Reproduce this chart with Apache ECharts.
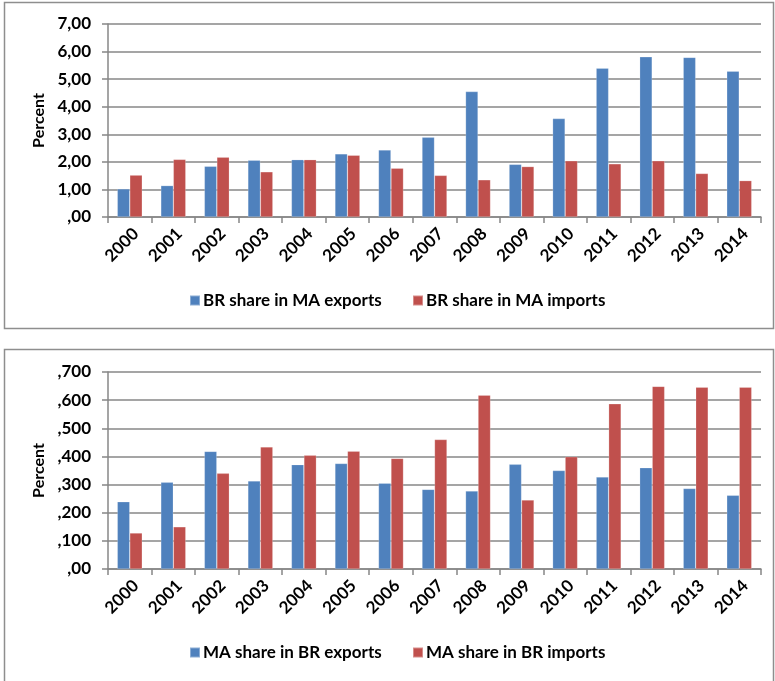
<!DOCTYPE html>
<html>
<head>
<meta charset="utf-8">
<script src="https://cdn.jsdelivr.net/npm/echarts@6/dist/echarts.min.js"></script>
<style>
html,body{margin:0;padding:0;background:#fff;}
#chart{width:775px;height:681px;}
</style>
</head>
<body>
<div id="chart"></div>
<script>
const years = ['2000','2001','2002','2003','2004','2005','2006','2007','2008','2009','2010','2011','2012','2013','2014'];
const brShareInMaExports = [1.02,1.14,1.84,2.06,2.08,2.29,2.43,2.89,4.55,1.91,3.57,5.40,5.81,5.79,5.29];
const brShareInMaImports = [1.52,2.09,2.17,1.64,2.08,2.24,1.77,1.51,1.35,1.83,2.04,1.93,2.04,1.58,1.32];
const maShareInBrExports = [0.239,0.308,0.418,0.313,0.371,0.375,0.305,0.283,0.277,0.372,0.350,0.327,0.360,0.286,0.262];
const maShareInBrImports = [0.128,0.150,0.340,0.434,0.404,0.419,0.393,0.460,0.618,0.245,0.399,0.587,0.649,0.646,0.646];
const seriesNames = ['BR share in MA exports','BR share in MA imports','MA share in BR exports','MA share in BR imports'];

const FONT = 'Lato, "Open Sans", sans-serif';
const BLUE = '#4F81BD';
const RED = '#C0504D';
const GRID = '#878787';

function fmtTop(v){ if (v === 0) return ',00'; return v.toFixed(2).replace('.', ','); }
function fmtBottom(v){ if (Math.abs(v) < 1e-9) return ',00'; return v.toFixed(3).replace(/^0\./, ','); }

function xAxis(gridIndex){
  return {
    type:'category', gridIndex, data: years, boundaryGap:true,
    axisLine:{show:true, lineStyle:{color:GRID, width:1.5}},
    axisTick:{show:true, length:6, lineStyle:{color:GRID, width:1.5}},
    axisLabel:{rotate:45, margin:8, verticalAlign:'top', color:'#000', fontFamily:FONT, fontWeight:'bold', fontSize:17},
    splitLine:{show:false}
  };
}
function yAxis(gridIndex, max, interval, fmt){
  return {
    type:'value', gridIndex, min:0, max, interval,
    name:'Percent', nameLocation:'middle', nameGap:60,
    nameTextStyle:{color:'#000', fontFamily:FONT, fontWeight:'bold', fontSize:16},
    axisLine:{show:true, lineStyle:{color:GRID, width:1.5}},
    axisTick:{show:true, length:6, lineStyle:{color:GRID, width:1.5}},
    axisLabel:{margin:17, color:'#000', fontFamily:FONT, fontWeight:'bold', fontSize:17, formatter:fmt},
    splitLine:{show:true, lineStyle:{color:GRID, width:1.5}}
  };
}
function bar(name, data, color, idx){
  return {
    type:'bar', name, data, xAxisIndex:idx, yAxisIndex:idx,
    barWidth:12.5, barGap:'0%',
    itemStyle:{color, borderColor:'rgba(255,255,255,0.35)', borderWidth:0.6},
    silent:true, animation:false
  };
}
function legend(name, left, top){
  return {
    data:[name], left, top, padding:0, icon:'rect', itemWidth:10, itemHeight:10, itemGap:4,
    textStyle:{color:'#000', fontFamily:FONT, fontWeight:'bold', fontSize:17, padding:[0,0,0,-2]},
    selectedMode:false
  };
}

const chart = echarts.init(document.getElementById('chart'), null, {renderer:'canvas'});
chart.setOption({
  animation:false,
  backgroundColor:'#fff',
  grid:[
    {left:108, right:14, top:24, height:193},
    {left:108, right:14, top:372, height:197}
  ],
  xAxis:[xAxis(0), xAxis(1)],
  yAxis:[yAxis(0, 7, 1, fmtTop), yAxis(1, 0.7, 0.1, fmtBottom)],
  legend:[
    legend(seriesNames[0], 189, 292),
    legend(seriesNames[1], 412, 292),
    legend(seriesNames[2], 189, 644),
    legend(seriesNames[3], 412, 644)
  ],
  series:[
    bar(seriesNames[0], brShareInMaExports, BLUE, 0),
    bar(seriesNames[1], brShareInMaImports, RED, 0),
    bar(seriesNames[2], maShareInBrExports, BLUE, 1),
    bar(seriesNames[3], maShareInBrImports, RED, 1)
  ],
  graphic:[
    {type:'rect', shape:{x:4.5, y:2.5, width:769, height:326}, style:{fill:'none', stroke:'#8e8e8e', lineWidth:1.5}, silent:true, z:-1},
    {type:'rect', shape:{x:4.5, y:349.5, width:769, height:345}, style:{fill:'none', stroke:'#8e8e8e', lineWidth:1.5}, silent:true, z:-1}
  ]
});
</script>
</body>
</html>
